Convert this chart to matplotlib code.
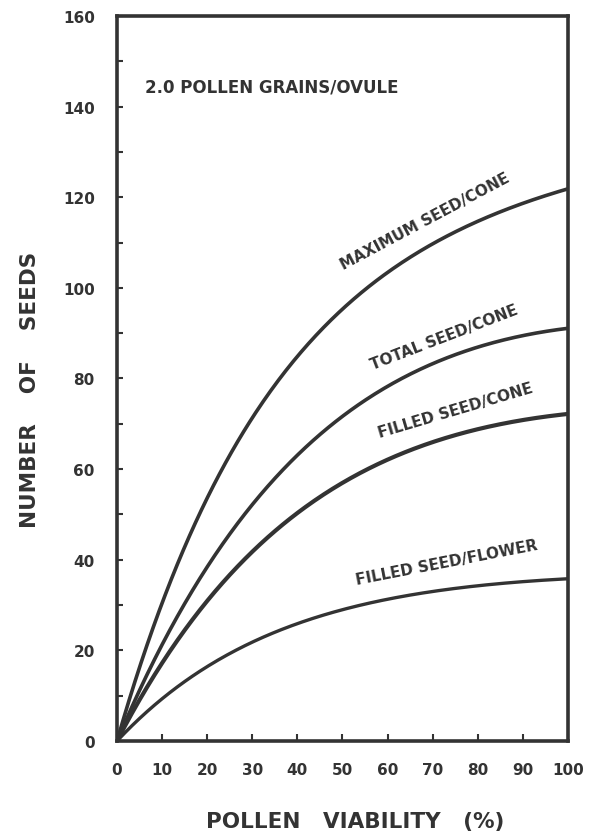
import numpy as np
import matplotlib
matplotlib.use("Agg")
import matplotlib.pyplot as plt
from matplotlib.ticker import MultipleLocator

# Data
viability = [0, 10, 20, 30, 40, 50, 60, 70, 80, 90, 100]
max_seed_cone = [0, 30, 53, 72, 85.5, 95.3, 103, 109.5, 114.5, 118.8, 122]
total_seed_cone = [0, 21, 38.5, 52.5, 63, 71.5, 78, 83.5, 87, 89.5, 91]
filled_seed_cone = [0, 17, 31, 42, 50.5, 56.5, 62, 66, 69, 71, 72]
filled_seed_flower = [0, 10.5, 16.5, 21, 25.5, 29, 31.5, 33.3, 34.5, 35.2, 35.5]

x_ticks = [0, 10, 20, 30, 40, 50, 60, 70, 80, 90, 100]
y_ticks = [0, 20, 40, 60, 80, 100, 120, 140, 160]

ink = "#333333"
plt.rcParams['font.family'] = ['DejaVu Sans']
plt.rcParams['font.weight'] = 'bold'

fig = plt.figure(figsize=(6.01, 8.37), dpi=100)
ax = fig.add_axes([0.1947, 0.1135, 0.7503, 0.8662])


def smooth(xs, ys, n=300):
    # smooth saturating least-squares curve a(1-exp(-bx)) + c*x of the read points
    xs = np.asarray(xs, float) / 100.0
    ys = np.asarray(ys, float)
    best = None
    for b in np.linspace(0.2, 8, 400):
        A = np.vstack([1 - np.exp(-b * xs), xs]).T
        c, *_ = np.linalg.lstsq(A, ys, rcond=None)
        err = np.sum((A @ c - ys) ** 2)
        if best is None or err < best[0]:
            best = (err, b, c)
    _, b, c = best
    xx = np.linspace(0, 1, n)
    yy = c[0] * (1 - np.exp(-b * xx)) + c[1] * xx
    return xx * 100, yy


for series, lw in [(max_seed_cone, 2.6), (total_seed_cone, 2.6),
                   (filled_seed_cone, 3.0), (filled_seed_flower, 2.4)]:
    xx, yy = smooth(viability, series)
    ax.plot(xx, yy, color=ink, lw=lw, solid_capstyle='butt')

ax.set_xlim(0, 100)
ax.set_ylim(0, 160)
ax.set_xticks(x_ticks)
ax.set_yticks(y_ticks)
ax.yaxis.set_minor_locator(MultipleLocator(10))
ax.tick_params(axis='both', which='both', direction='in', color=ink,
               width=1.5, labelcolor=ink)
ax.tick_params(axis='x', which='major', length=5, pad=15, labelsize=11)
ax.tick_params(axis='y', which='major', length=4, pad=16, labelsize=11)
ax.tick_params(axis='y', which='minor', length=4)
for lab in ax.get_xticklabels() + ax.get_yticklabels():
    lab.set_fontweight('bold')
for s in ax.spines.values():
    s.set_linewidth(2.6)
    s.set_color(ink)

fig.text(355 / 601, 1 - 822 / 837, "POLLEN   VIABILITY   (%)", fontsize=15.5,
         fontweight='bold', color=ink, ha='center', va='center')
fig.text(30 / 601, 1 - 390 / 837, "NUMBER    OF    SEEDS", fontsize=15.5,
         fontweight='bold', color=ink, ha='center', va='center', rotation=90)

ax.text(6.2, 144.4, "2.0 POLLEN GRAINS/OVULE", fontsize=12, fontweight='bold',
        color=ink, ha='left', va='center')

labels = [("MAXIMUM SEED/CONE", 68.3, 114.8, 28),
          ("TOTAL SEED/CONE", 72.5, 89.2, 21),
          ("FILLED SEED/CONE", 75.0, 73.0, 16.5),
          ("FILLED SEED/FLOWER", 73.2, 39.5, 11)]
for txt, lx, ly, rot in labels:
    ax.text(lx, ly, txt, fontsize=11, fontweight='bold', color=ink,
            ha='center', va='center', rotation=rot, rotation_mode='anchor')

fig.savefig("out.png", dpi=100)
